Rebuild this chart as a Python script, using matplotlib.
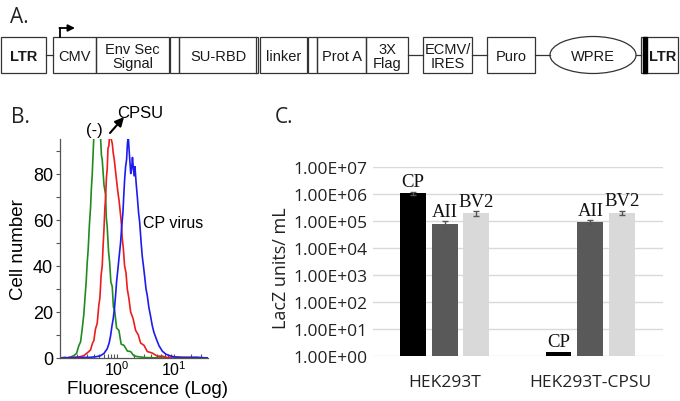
import numpy as np
import matplotlib
matplotlib.use("Agg")
import matplotlib.pyplot as plt
from matplotlib.patches import Rectangle, Ellipse
from matplotlib.ticker import FixedLocator, FuncFormatter, NullLocator, LogLocator

plt.rcParams['font.family'] = ['Liberation Sans', 'DejaVu Sans']
plt.rcParams['mathtext.default'] = 'regular'

# ---- Panel A: vector map (label, left px, right px, kind) ----
map_labels = ['LTR', 'CMV', 'Env Sec\nSignal', '', 'SU-RBD', 'linker', '',
              'Prot A', '3X\nFlag', 'ECMV/\nIRES', 'Puro', 'WPRE', 'LTR']
map_kinds = ['bold', 'box', 'box', 'box', 'double', 'box', 'box',
             'box', 'box', 'box', 'box', 'ellipse', 'ltr3']
map_left = [1, 53, 96, 170, 179, 260, 308, 317, 366, 423, 487, 550, 641]
map_right = [46, 96, 169, 179, 258, 307, 317, 366, 408, 472, 535, 636, 678]

# ---- Panel B: flow histograms (log10 fluorescence, cell number) ----
green_logx = [-1.0, -0.90, -0.865, -0.80, -0.749, -0.70, -0.661, -0.63, -0.602, -0.573,
              -0.55, -0.532, -0.515, -0.497, -0.475, -0.456, -0.44, -0.427, -0.41, -0.398,
              -0.37, -0.34, -0.31, -0.281, -0.265, -0.251, -0.22, -0.193, -0.18, -0.164,
              -0.14, -0.123, -0.10, -0.076, -0.055, -0.035, 0.0, 0.041, 0.08, 0.129,
              0.19, 0.246, 0.30, 0.363, 0.5, 0.8, 1.2, 1.6]
green_count = [0, 0.3, 0, 0.5, 1, 2, 5.3, 7, 12.5, 19,
               27, 33, 41, 47, 58, 65, 74, 79, 89, 96,
               99, 100, 98, 96, 88, 86, 75, 71, 61, 57,
               46, 42, 33, 31, 22, 21, 13, 12, 6, 5.5,
               3, 2.8, 1, 0.6, 0.2, 0, 0.3, 0]

red_logx = [-1.0, -0.8, -0.65, -0.573, -0.50, -0.456, -0.42, -0.398, -0.37, -0.339,
            -0.31, -0.292, -0.27, -0.251, -0.235, -0.222, -0.205, -0.193, -0.178, -0.164,
            -0.15, -0.135, -0.115, -0.094, -0.075, -0.059, -0.04, -0.018, 0.0, 0.023,
            0.045, 0.070, 0.085, 0.099, 0.12, 0.140, 0.165, 0.187, 0.215, 0.246,
            0.29, 0.333, 0.38, 0.421, 0.48, 0.538, 0.62, 0.713, 0.80, 0.889,
            1.1, 1.6]
red_count = [0, 0.2, 0.5, 1, 2.5, 3.5, 6.5, 7.5, 12.5, 15,
             23, 26, 36, 40, 49, 55, 65, 69, 78, 82,
             91, 92, 99, 95, 93, 89, 86, 81, 77, 72,
             68, 62, 58, 52, 47, 40, 37, 30, 26, 20,
             17, 12, 10, 6.5, 5.5, 2.8, 2.2, 0.8, 0.8, 0.2,
             0.3, 0]

blue_logx = [-1.0, -0.7, -0.456, -0.35, -0.281, -0.22, -0.164, -0.13, -0.105, -0.08,
             -0.059, -0.035, -0.018, 0.0, 0.023, 0.045, 0.070, 0.09, 0.111, 0.125,
             0.140, 0.158, 0.175, 0.19, 0.205, 0.22, 0.234, 0.248, 0.263, 0.278,
             0.292, 0.307, 0.322, 0.342, 0.363, 0.385, 0.404, 0.43, 0.450, 0.47,
             0.491, 0.515, 0.538, 0.565, 0.596, 0.625, 0.655, 0.70, 0.743, 0.80,
             0.860, 0.93, 1.006, 1.181, 1.4, 1.6]
blue_count = [0, 0.2, 0.3, 0.6, 1, 2, 4, 6.5, 9.6, 14,
              17, 22, 27, 33, 38.5, 44, 50, 57, 63, 70,
              77, 83, 86, 93, 96, 90, 85, 80, 82, 87,
              83, 79, 83, 76, 70, 63, 59, 50, 44, 40,
              35.5, 30, 27, 22, 18, 14, 11, 8, 5.3, 3,
              1.7, 1, 0.5, 0.1, 0.3, 0]

# ---- Panel C: LacZ titers ----
cell_lines = ['HEK293T', 'HEK293T-CPSU']
virus_names = ['CP', 'AII', 'BV2']
cp_titer = [1.05e6, 1.4]
aii_titer = [7.7e4, 9.0e4]
bv2_titer = [1.9e5, 2.0e5]
cp_err = [1.5e5, 0]
aii_err = [2.0e4, 1.5e4]
bv2_err = [4.0e4, 4.0e4]
titer_ticks = [1e0, 1e1, 1e2, 1e3, 1e4, 1e5, 1e6, 1e7]

W, H = 680, 402
fig = plt.figure(figsize=(6.8, 4.02), dpi=100)


def px_axes(left, top, right, bottom):
    return fig.add_axes([left / W, 1 - bottom / H, (right - left) / W, (bottom - top) / H])


# ---------- Panel A ----------
ax_a = fig.add_axes([0, 0, 1, 1])
ax_a.set_xlim(0, W)
ax_a.set_ylim(H, 0)
ax_a.axis('off')
ax_a.patch.set_alpha(0)
box_top, box_bot = 38, 74
mid = (box_top + box_bot) / 2
edge = '#333333'
for i, (lab, kind, x0, x1) in enumerate(zip(map_labels, map_kinds, map_left, map_right)):
    if i > 0 and map_left[i] - map_right[i - 1] > 3:
        ax_a.plot([map_right[i - 1], map_left[i]], [mid, mid], color=edge, lw=0.9)
    cx = (x0 + x1) / 2
    if kind == 'ellipse':
        ax_a.add_patch(Ellipse((cx, mid), x1 - x0, box_bot - box_top + 1, fill=False,
                               ec=edge, lw=0.9))
    else:
        ax_a.add_patch(Rectangle((x0, box_top), x1 - x0, box_bot - box_top, fill=False,
                                 ec=edge, lw=0.9))
    if kind == 'double':
        ax_a.plot([x1 - 2, x1 - 2], [box_top, box_bot], color=edge, lw=0.9)
    weight = 'normal'
    if kind in ('bold', 'ltr3'):
        weight = 'bold'
    if kind == 'ltr3':
        ax_a.add_patch(Rectangle((x0 + 2, box_top), 4, box_bot - box_top, color='black'))
        cx = (x0 + 6 + x1) / 2
    ax_a.text(cx, mid + 1, lab, ha='center', va='center', fontsize=10.5,
              fontweight=weight, color='#1a1a1a', linespacing=0.95)
# promoter arrow above CMV
ax_a.plot([60, 60], [box_top, 29], color='black', lw=1.3)
ax_a.annotate('', xy=(75, 29), xytext=(59.4, 29),
              arrowprops=dict(arrowstyle='-|>', color='black', lw=1.3,
                              mutation_scale=10, shrinkA=0, shrinkB=0))

fig.text(10 / W, 1 - 23 / H, 'A.', fontsize=15, va='baseline', family='Open Sans',
         color='#222222')
fig.text(11 / W, 1 - 123 / H, 'B.', fontsize=15, va='baseline', family='Open Sans',
         color='#222222')
fig.text(275 / W, 1 - 123 / H, 'C.', fontsize=15, va='baseline', family='Open Sans',
         color='#222222')

# ---------- Panel B ----------
ax_b = px_axes(60, 140, 208, 359)
for logx, cnt, col in [(green_logx, green_count, '#1e8c1e'),
                       (red_logx, red_count, '#ee1c1c'),
                       (blue_logx, blue_count, '#1c1cee')]:
    ax_b.plot(10 ** np.array(logx), cnt, color=col, lw=1.2)
ax_b.set_xscale('log')
ax_b.set_xlim(10 ** -0.99, 10 ** 1.6)
ax_b.set_ylim(0, 95)
ax_b.spines[['top', 'right']].set_visible(False)
for s in ('left', 'bottom'):
    ax_b.spines[s].set_color('#555555')
    ax_b.spines[s].set_linewidth(0.9)
ax_b.yaxis.set_major_locator(FixedLocator([0, 20, 40, 60, 80]))
ax_b.yaxis.set_minor_locator(FixedLocator([10, 30, 50, 70, 90]))
ax_b.xaxis.set_major_locator(FixedLocator([1, 10]))
ax_b.xaxis.set_minor_locator(LogLocator(base=10, subs=np.arange(2, 10)))
ax_b.xaxis.set_minor_formatter(FuncFormatter(lambda v, p: ''))
ax_b.xaxis.set_major_formatter(FuncFormatter(lambda v, p: '$10^{%d}$' % round(np.log10(v))))
ax_b.tick_params(axis='y', which='both', direction='out', length=3, width=0.8,
                 color='#555555', labelsize=13, pad=2)
ax_b.tick_params(axis='x', which='both', direction='in', length=3, width=0.8,
                 color='#555555', labelsize=11.5, pad=1)
ax_b.set_ylabel('Cell number', fontsize=13.5)
ax_b.yaxis.set_label_coords(-0.22, 0.5)
ax_b.set_xlabel('Fluorescence (Log)', fontsize=13.5)
ax_b.xaxis.set_label_coords(0.59, -0.1)
fig.text(94 / W, 1 - 131 / H, '(-)', fontsize=12, ha='center', va='center')
fig.text(117 / W, 1 - 118 / H, 'CPSU', fontsize=12, va='baseline')
fig.text(143 / W, 1 - 228 / H, 'CP virus', fontsize=11.5, va='baseline')
ax_a.annotate('', xy=(124, 118), xytext=(110, 134),
              arrowprops=dict(arrowstyle='-|>', color='black', lw=1.5,
                              mutation_scale=13, shrinkA=0, shrinkB=0))

# ---------- Panel C ----------
ax_c = px_axes(373, 168, 663, 357)
xg = np.arange(len(cell_lines))
bw, step = 0.178, 0.219
series = [(cp_titer, cp_err, 'black'), (aii_titer, aii_err, '#595959'),
          (bv2_titer, bv2_err, '#d9d9d9')]
for k, (vals, errs, col) in enumerate(series):
    xs = xg + (k - 1) * step
    ax_c.bar(xs, vals, width=bw, color=col, zorder=2)
    for x, v, e in zip(xs, vals, errs):
        if e > 0:
            ax_c.errorbar(x, v, yerr=e, color='#555555', lw=1, capsize=2.5,
                          capthick=1, zorder=3)
        ax_c.annotate(virus_names[k], (x, v + e), xytext=(0, 4), textcoords='offset points',
                      ha='center', va='baseline', fontsize=13.5, family='Liberation Serif',
                      color='#111111')
ax_c.set_yscale('log')
ax_c.set_ylim(1, 1e7)
ax_c.set_xlim(-0.49, 1.497)
ax_c.yaxis.set_major_locator(FixedLocator(titer_ticks))
ax_c.yaxis.set_minor_locator(NullLocator())
ax_c.yaxis.set_major_formatter(FuncFormatter(lambda v, p: f'{v:.2E}'))
ax_c.set_xticks(xg)
ax_c.set_xticklabels(cell_lines)
for s in ax_c.spines.values():
    s.set_visible(False)
ax_c.set_axisbelow(True)
ax_c.yaxis.grid(True, color='#d9d9d9', lw=1)
ax_c.tick_params(axis='both', length=0, colors='#222222')
ax_c.tick_params(axis='y', pad=4, labelsize=12.5)
ax_c.tick_params(axis='x', pad=13, labelsize=12.5)
for t in ax_c.get_yticklabels() + ax_c.get_xticklabels():
    t.set_family('Open Sans')
ax_c.set_ylabel('LacZ units/ mL', fontsize=13, family='Open Sans', color='#222222')
ax_c.yaxis.set_label_coords(-0.286, 0.47)

fig.savefig('out.png', dpi=100)
